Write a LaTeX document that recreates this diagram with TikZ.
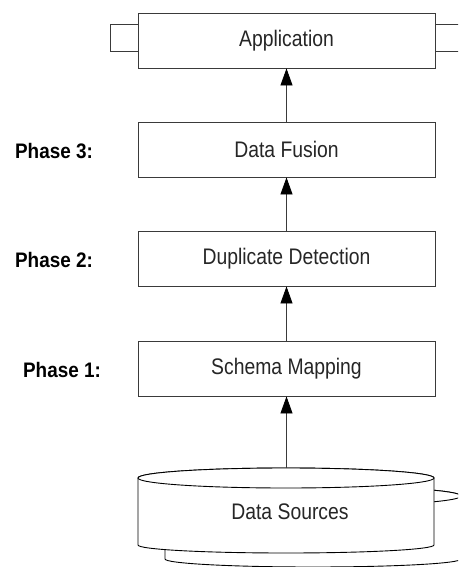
\documentclass[tikz,border=0pt]{standalone}
\usepackage{fontspec}
\setmainfont{Liberation Sans}
\newfontfamily\condfont[FakeStretch=0.86]{Liberation Sans}
\newfontfamily\condbold[FakeStretch=0.9]{Liberation Sans Bold}
\usetikzlibrary{arrows.meta}
\definecolor{ln}{HTML}{3A3A3A}
\definecolor{tx}{HTML}{262626}
\begin{document}
\begin{tikzpicture}[x=1pt,y=-1pt,
  lbl/.style={font=\condfont\fontsize{22.5}{25}\selectfont,text=tx},
  box/.style={lbl,draw=ln,line width=0.9pt,fill=white,minimum width=297pt,minimum height=55pt,inner sep=0pt},
  phase/.style={font=\condbold\fontsize{21}{24}\selectfont,text=black,inner sep=0pt},
  arr/.style={draw=ln,line width=0.8pt,-{Triangle[length=17pt,width=12pt,color=black,fill=black]}},
  shp/.style={draw=black,line width=0.9pt,fill=white}]
\useasboundingbox (0,0) rectangle (458,567);
\begin{scope}
\clip (0,0) rectangle (458,567);
% side tabs of Application
\draw[draw=ln,line width=0.9pt] (138,24) -- (110,24) -- (110,51) -- (138,51);
\draw[draw=ln,line width=0.9pt] (435,24) -- (470,24);
\draw[draw=ln,line width=0.9pt] (435,51) -- (470,51);
% back cylinder
\path[shp] (165,496) -- (165,559) arc[start angle=180,end angle=360,x radius=148pt,y radius=8pt]
  -- (461,496) arc[start angle=0,end angle=180,x radius=148pt,y radius=10pt] -- cycle;
\draw[shp] (313,496) ellipse[x radius=148pt,y radius=10pt];
% front cylinder
\path[shp] (138,478) -- (138,545) arc[start angle=180,end angle=360,x radius=148pt,y radius=8pt]
  -- (434,478) arc[start angle=0,end angle=180,x radius=148pt,y radius=10pt] -- cycle;
\draw[shp] (286,478) ellipse[x radius=148pt,y radius=10pt];
\end{scope}
\coordinate (dstop) at (286.5,468);
\node[lbl] (ds) at (290,512) {Data Sources};
% boxes
\node[box] (app) at (286.5,40.5) {Application};
\node[box] (fus) at (286.5,149.5) {Data Fusion};
\node[box] (dup) at (286.5,258.5) {Duplicate Detection};
\node[box] (sch) at (286.5,368.5) {Schema Mapping};
% phase labels
\node[phase] (p3) at (54,151) {Phase 3:};
\node[phase] (p2) at (54,259.5) {Phase 2:};
\node[phase] (p1) at (62,369.5) {Phase 1:};
% arrows
\draw[arr] (dstop) -- (sch.south);
\draw[arr] (sch.north) -- (dup.south);
\draw[arr] (dup.north) -- (fus.south);
\draw[arr] (fus.north) -- (app.south);
\end{tikzpicture}
\end{document}
